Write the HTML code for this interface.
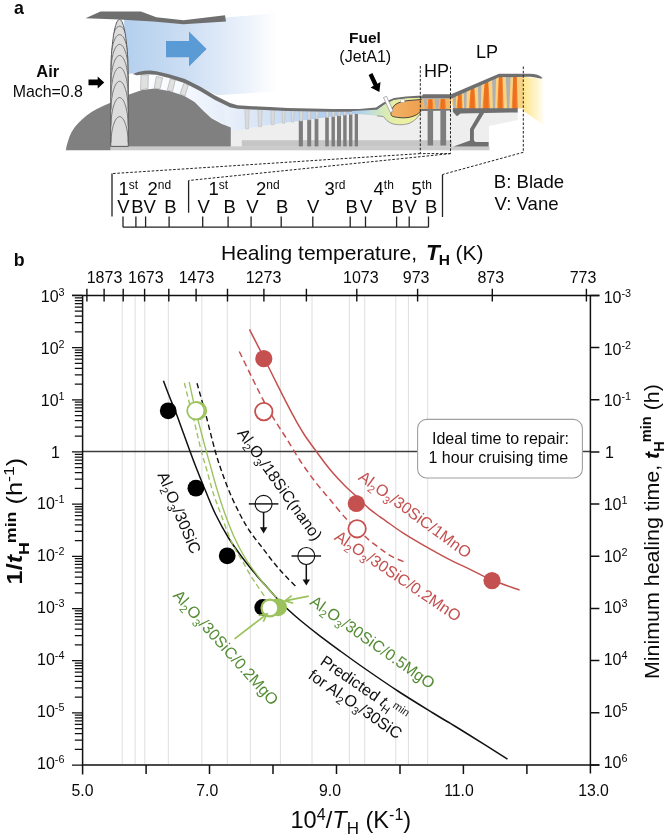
<!DOCTYPE html>
<html><head><meta charset="utf-8"><title>Figure</title>
<style>
html,body{margin:0;padding:0;background:#fff;}
body{width:666px;height:836px;overflow:hidden;}
svg{display:block;font-family:"Liberation Sans",sans-serif;}
text{fill:#0a0a0a;}
</style></head><body>
<svg width="666" height="836" viewBox="0 0 666 836">
<defs>
<linearGradient id="gAir" x1="127" y1="0" x2="278" y2="0" gradientUnits="userSpaceOnUse"><stop offset="0" stop-color="#b4d0ee"/><stop offset="0.35" stop-color="#c9dcf2"/><stop offset="0.75" stop-color="#e9f0fa"/><stop offset="1" stop-color="#ffffff"/></linearGradient>
<linearGradient id="gCore" x1="128" y1="0" x2="245" y2="0" gradientUnits="userSpaceOnUse"><stop offset="0" stop-color="#ffffff"/><stop offset="0.45" stop-color="#f6f9fe"/><stop offset="1" stop-color="#dfe9f8"/></linearGradient>
<linearGradient id="gComp" x1="226" y1="0" x2="378" y2="0" gradientUnits="userSpaceOnUse"><stop offset="0" stop-color="#eaf1fb"/><stop offset="0.3" stop-color="#d2e1f4"/><stop offset="0.6" stop-color="#b5cfee"/><stop offset="1" stop-color="#a3c4ea"/></linearGradient>
<linearGradient id="gComb" x1="352" y1="0" x2="422" y2="0" gradientUnits="userSpaceOnUse"><stop offset="0" stop-color="#a9c8ec"/><stop offset="0.2" stop-color="#b9d8e4"/><stop offset="0.42" stop-color="#d3e8bd"/><stop offset="0.6" stop-color="#e6efa6"/><stop offset="1" stop-color="#f4f19a"/></linearGradient>
<linearGradient id="gFlame" x1="390" y1="0" x2="424" y2="0" gradientUnits="userSpaceOnUse"><stop offset="0" stop-color="#f2b268"/><stop offset="1" stop-color="#ef9e4a"/></linearGradient>
<linearGradient id="gExh" x1="523" y1="0" x2="545" y2="0" gradientUnits="userSpaceOnUse"><stop offset="0" stop-color="#fde589"/><stop offset="0.5" stop-color="#fef2bf"/><stop offset="1" stop-color="#ffffff"/></linearGradient>
</defs>
<g id="engine">
<path d="M124 19L156 19L184.6 23L225.7 17.5L278 13L278 91.3L217 95.2L200 87.5L185 80L170 75.5L156 72.3L148 71.5L132 74.5L126 76Z" fill="url(#gAir)"/>
<path d="M127 74L148 72L170 76L185 81L200 89L215 98L230 105L247 108L247 131L231 131L222 123L211.4 117.8L203 110.5L194.6 102L184 95.7L169.4 91L154.7 88.4L142 90L128.4 94.7Z" fill="url(#gCore)"/>
<path d="M231 127L231 150L489 150L489 126L505.7 122.5L517.7 120L517.7 108L454 110L450 109L421 109L421 112L413.5 121L403 125L391 123.5L383.5 117.5L377 112.8L358 113L332.6 116.5L298.8 121L265 125.5L244.8 129L236 130.5Z" fill="#eeeeee"/>
<path d="M222 101L230 105L247 108L287.6 109.8L332.6 110.6L359.6 110.6L378 109L378 112.6L359.6 113L332.6 116.5L298.8 121L265 125.5L244.8 129L236 130.5L231 130.6L231 127.5L226 125Z" fill="url(#gComp)"/>
<rect x="241.8" y="140.2" width="210" height="6.4" fill="#c6c6c6"/>
<rect x="110.5" y="146.4" width="379" height="3.9" fill="#cbcbcb"/>
<rect x="298.8" y="120.7" width="4.1" height="25.7" fill="#7d7d7d"/>
<rect x="307.2" y="119.6" width="4" height="26.8" fill="#7d7d7d"/>
<rect x="314.6" y="118.7" width="3.8" height="27.7" fill="#7d7d7d"/>
<rect x="325.2" y="117.3" width="3.6" height="29.1" fill="#7d7d7d"/>
<rect x="331.5" y="116.5" width="3.4" height="29.9" fill="#7d7d7d"/>
<rect x="337" y="115.7" width="4" height="30.7" fill="#7d7d7d"/>
<rect x="343.2" y="114.9" width="3.4" height="31.5" fill="#7d7d7d"/>
<rect x="349" y="114.2" width="3.4" height="32.2" fill="#7d7d7d"/>
<rect x="354.7" y="113.4" width="3.3" height="33" fill="#7d7d7d"/>
<path d="M244.8 108.4L249.3 108.4L248.5 128.9L245.6 128.9Z" fill="#dadada" stroke="#b9b9b9" stroke-width="0.5"/>
<path d="M257.8 109L262.3 109L261.5 126.7L258.6 126.7Z" fill="#dadada" stroke="#b9b9b9" stroke-width="0.5"/>
<path d="M270.7 109.5L274.7 109.5L274 124.8L271.4 124.8Z" fill="#dadada" stroke="#b9b9b9" stroke-width="0.5"/>
<path d="M282 110L285.3 110L284.7 123.3L282.6 123.3Z" fill="#dadada" stroke="#b9b9b9" stroke-width="0.5"/>
<path d="M291 110.3L294.3 110.3L293.7 122.1L291.6 122.1Z" fill="#dadada" stroke="#b9b9b9" stroke-width="0.5"/>
<path d="M299.3 110.4L302.9 110.4L302.3 121L299.9 121Z" fill="#dadada" stroke="#b9b9b9" stroke-width="0.5"/>
<path d="M307.4 110.6L310.8 110.6L310.2 119.9L308 119.9Z" fill="#dadada" stroke="#b9b9b9" stroke-width="0.5"/>
<path d="M315.3 110.7L318.4 110.7L317.9 118.9L315.8 118.9Z" fill="#dadada" stroke="#b9b9b9" stroke-width="0.5"/>
<path d="M325.9 110.9L328.8 110.9L328.3 117.5L326.4 117.5Z" fill="#dadada" stroke="#b9b9b9" stroke-width="0.5"/>
<path d="M332 111L334.9 111L334.4 116.7L332.5 116.7Z" fill="#dadada" stroke="#b9b9b9" stroke-width="0.5"/>
<path d="M337.8 111L340.5 111L340 116L338.3 116Z" fill="#dadada" stroke="#b9b9b9" stroke-width="0.5"/>
<path d="M343.4 111L346 111L345.6 115.2L343.8 115.2Z" fill="#dadada" stroke="#b9b9b9" stroke-width="0.5"/>
<path d="M349.5 111L352.2 111L351.7 114.4L350 114.4Z" fill="#dadada" stroke="#b9b9b9" stroke-width="0.5"/>
<path d="M355 111L357.8 111L357.3 113.7L355.5 113.7Z" fill="#dadada" stroke="#b9b9b9" stroke-width="0.5"/>
<path d="M65.8 150.3L66.6 146L67.9 141.5L69.5 136.5L71.6 132L74.5 127.5L77.9 123.6L82 119.4L86.3 115.7L91.5 112L96.8 108.9L103 105.9L109.9 103.1L128.4 94.7L142 90L154.7 88.4L169.4 91L184 95.7L194.6 102L203 110.5L211.4 118.2L222 124L230.8 127.6L230.8 146.4L110.5 146.4L110.5 150.3Z" fill="#808080"/>
<path d="M141 74.7L148.3 75L148 88.6L140.6 89.8 Z" fill="#e0e0e0" stroke="#a5a5a5" stroke-width="0.6"/>
<path d="M156.3 76.4L162.6 77.9L160 88.8L154.2 88.2 Z" fill="#e0e0e0" stroke="#a5a5a5" stroke-width="0.6"/>
<path d="M170.4 78.6L175.3 80.2L172.5 91.5L167.3 90 Z" fill="#e0e0e0" stroke="#a5a5a5" stroke-width="0.6"/>
<path d="M184 83L188.3 85L185 96L180 94 Z" fill="#e0e0e0" stroke="#a5a5a5" stroke-width="0.6"/>
<path d="M132.8 74L138 72L144.5 70.7L150 70.6L156.2 71.3L165 73.3L170 74.5L185 79L200 86.5L215 95.5L230 103L237.6 105.3L252.6 106.2L270 106.9L287.6 108.1L332.6 108.9L359.6 108.9L376 107.5L383.5 102.5L394 97.9L406 96.5L421.6 95.6L421.6 97.9L406 98.8L394 100.3L384.9 104.6L377.3 110L359.6 111.6L332.6 111.7L287.6 111L270 110.2L252.6 109.5L237.6 108.8L230 107.3L215 100L200 91L185 83.2L170 78.3L165 76.9L156.2 74.7L147 74.2L136.7 75.3 Z" fill="#6f6f6f"/>
<path d="M352 110.9L377 109.8L384.6 104.4L394 100.1L406 98.6L421.4 97.8L421.4 110.5C419.5 116 415.5 120.5 410 123C405 125.2 397 125.2 392 123.6C388 122.2 385.5 119.5 383.5 116.6L377 115.8L352 113.4Z" fill="url(#gComb)"/>
<path d="M377 115.8L383.5 116.6C385.5 119.5 388 122.2 392 123.6C397 125.2 405 125.2 410 123C415.5 120.5 419.5 116 421.4 110.5" fill="none" stroke="#8f8f8f" stroke-width="0.9"/>
<path d="M391 112.5C392 108 394 105 397 103.5C401 101.6 405 100.8 409 100.5L421.8 99.4L436 99.4L436 108.5L421.8 109.5C420 112.5 417.5 114.5 415 115.5C411 117.3 407 117.9 403 117.8C399 117.7 395 117.2 392.5 116.3C391 115.5 390.6 114 391 112.5Z" fill="url(#gFlame)" stroke="#3a3a3a" stroke-width="0.9"/>
<rect x="400.8" y="99.2" width="3.6" height="3" fill="#fff" stroke="#b5b5b5" stroke-width="0.5"/>
<path d="M383.5 97.5L386.6 96.3L393.2 111.2L390.2 112.5Z" fill="#fff" stroke="#9a9a9a" stroke-width="0.8"/>
<linearGradient id="gBl" x1="0" y1="0" x2="1" y2="0"><stop offset="0" stop-color="#f6a04a"/><stop offset="0.3" stop-color="#ee6f1e"/><stop offset="0.7" stop-color="#ee6f1e"/><stop offset="1" stop-color="#f6a04a"/></linearGradient>
<path d="M421.8 99L451 98.6L451 109L421.8 109.4Z" fill="#f5b566"/>
<path d="M451 98.6L498.8 77.3L523.5 76.6L523.5 108.4L453 108.8Z" fill="#f9d384"/>
<path d="M423.8 99.2L427.2 99.2L426.3 108.9L424.8 108.9Z" fill="#b0b0b0"/>
<path d="M427 109L433.6 109L432.5 99.2L428.3 99.2Z" fill="url(#gBl)"/>
<path d="M434.5 99.2L439.4 99.2L438.4 108.9L436 108.9Z" fill="#b0b0b0"/>
<path d="M439.4 109L446.3 109L445.3 99L440.6 99Z" fill="url(#gBl)"/>
<path d="M453 97.3L456 95.9L455.6 108.9L453.4 108.9Z" fill="#b0b0b0"/>
<path d="M456.4 108.9L462.8 108.9L461.7 93.4L458 95Z" fill="url(#gBl)"/>
<path d="M463.8 92.5L466.7 91.2L466.4 108.9L464.1 108.9Z" fill="#b0b0b0"/>
<path d="M468.7 108.9L475.9 108.9L474.4 87.8L470.7 89.4Z" fill="url(#gBl)"/>
<path d="M477.9 86.2L481.4 84.7L480.8 108.9L478.5 108.9Z" fill="#b0b0b0"/>
<path d="M482.3 108.9L490.1 108.9L488.3 81.6L484.6 83.3Z" fill="url(#gBl)"/>
<path d="M492.1 80L496 78.2L495.2 108.9L492.9 108.9Z" fill="#b0b0b0"/>
<path d="M497 108.9L503.8 108.9L502.5 76.8L498.8 77Z" fill="url(#gBl)"/>
<path d="M505.8 76.7L510.6 76.6L509.3 108.9L507.1 108.9Z" fill="#b0b0b0"/>
<path d="M511.6 108.9L518 108.9L516.9 76.5L513.2 76.6Z" fill="url(#gBl)"/>
<path d="M423 94.3L451.1 94.3L499 73.8L530 73.8C535.5 73.9 539.5 75.2 542.6 77.9L540.6 79.6C537.5 77.6 534 76.9 528 76.8L499 77.3L451.6 98.6L420.2 98.6Z" fill="#6f6f6f"/>
<path d="M422 108.9L451 108.9L451 110.6L422 111Z" fill="#6f6f6f"/>
<path d="M452.8 108.2L517.7 108.2L517.7 112.4L460.5 113.6L457 116.2L452.8 111.8Z" fill="#6f6f6f"/>
<path d="M479.4 113L484.1 113L473.9 129.8L473.9 139.5C474 141 474.8 141.9 476 141.9L488.6 141.9L488.6 146.6L453.5 146.6L470 140.4L470 129Z" fill="#6f6f6f"/>
<rect x="427.6" y="109.2" width="5.5" height="36.3" fill="#7d7d7d"/>
<rect x="440.4" y="109.2" width="5.7" height="36.3" fill="#7d7d7d"/>
<path d="M523.8 76.9L541 78.6L546 80L546 126.5L523.8 111.2Z" fill="url(#gExh)"/>
<clipPath id="cBlade"><path d="M110.7 146.4L110.7 75.4L110.8 70.8L110.9 66.5L111 62.3L111.2 58.3L111.5 54.5L111.7 50.9L112 47.5L112.4 44.3L112.7 41.3L113.1 38.5L113.4 35.8L113.8 33.4L114.3 31.2L114.7 29.1L115.1 27.3L115.6 25.6L116.1 24.2L116.5 22.9L117 21.8L117.5 21L118 20.3L118.5 19.8L119 19.5L119.5 19.4L120 19.5L120.5 19.8L121 20.3L121.5 21L122 21.8L122.5 22.9L122.9 24.2L123.4 25.6L123.9 27.3L124.3 29.1L124.7 31.2L125.2 33.4L125.6 35.8L125.9 38.5L126.3 41.3L126.6 44.3L127 47.5L127.3 50.9L127.5 54.5L127.8 58.3L128 62.3L128.1 66.5L128.2 70.8L128.3 75.4L128.3 146.4 Z"/></clipPath>
<path d="M110.7 146.4L110.7 75.4L110.8 70.8L110.9 66.5L111 62.3L111.2 58.3L111.5 54.5L111.7 50.9L112 47.5L112.4 44.3L112.7 41.3L113.1 38.5L113.4 35.8L113.8 33.4L114.3 31.2L114.7 29.1L115.1 27.3L115.6 25.6L116.1 24.2L116.5 22.9L117 21.8L117.5 21L118 20.3L118.5 19.8L119 19.5L119.5 19.4L120 19.5L120.5 19.8L121 20.3L121.5 21L122 21.8L122.5 22.9L122.9 24.2L123.4 25.6L123.9 27.3L124.3 29.1L124.7 31.2L125.2 33.4L125.6 35.8L125.9 38.5L126.3 41.3L126.6 44.3L127 47.5L127.3 50.9L127.5 54.5L127.8 58.3L128 62.3L128.1 66.5L128.2 70.8L128.3 75.4L128.3 146.4 Z" fill="#dcdcdc" stroke="#5a5a5a" stroke-width="1" stroke-linejoin="round"/>
<g clip-path="url(#cBlade)">
<path d="M111 50.2L111.1 48.2L111.2 46.4L111.3 44.6L111.5 42.9L111.7 41.2L112 39.7L112.3 38.2L112.6 36.9L112.9 35.6L113.3 34.4L113.7 33.2L114.1 32.2L114.5 31.2L114.9 30.4L115.3 29.6L115.8 28.9L116.2 28.2L116.7 27.7L117.2 27.2L117.6 26.9L118.1 26.6L118.6 26.4L119.1 26.2L119.6 26.2L120.1 26.2L120.6 26.4L121.1 26.6L121.6 26.9L122 27.2L122.5 27.7L123 28.2L123.4 28.9L123.9 29.6L124.3 30.4L124.7 31.2L125.1 32.2L125.5 33.2L125.9 34.4L126.3 35.6L126.6 36.9L126.9 38.2L127.2 39.7L127.5 41.2L127.7 42.9L127.9 44.6L128 46.4L128.1 48.2L128.2 50.2" fill="none" stroke="#555" stroke-width="0.75"/>
<path d="M111 59.6L111.1 57.6L111.2 55.6L111.3 53.7L111.5 52L111.7 50.3L112 48.7L112.3 47.1L112.6 45.7L112.9 44.4L113.3 43.1L113.7 41.9L114.1 40.9L114.5 39.9L114.9 38.9L115.3 38.1L115.8 37.4L116.2 36.7L116.7 36.2L117.2 35.7L117.6 35.3L118.1 35L118.6 34.8L119.1 34.6L119.6 34.6L120.1 34.6L120.6 34.8L121.1 35L121.6 35.3L122 35.7L122.5 36.2L123 36.7L123.4 37.4L123.9 38.1L124.3 38.9L124.7 39.9L125.1 40.9L125.5 41.9L125.9 43.1L126.3 44.4L126.6 45.7L126.9 47.1L127.2 48.7L127.5 50.3L127.7 52L127.9 53.7L128 55.6L128.1 57.6L128.2 59.6" fill="none" stroke="#555" stroke-width="0.75"/>
<path d="M111 70.4L111.1 68.3L111.2 66.2L111.3 64.3L111.5 62.5L111.7 60.7L112 59L112.3 57.4L112.6 56L112.9 54.6L113.3 53.2L113.7 52L114.1 50.9L114.5 49.9L114.9 48.9L115.3 48.1L115.8 47.3L116.2 46.6L116.7 46L117.2 45.5L117.6 45.1L118.1 44.8L118.6 44.6L119.1 44.4L119.6 44.4L120.1 44.4L120.6 44.6L121.1 44.8L121.6 45.1L122 45.5L122.5 46L123 46.6L123.4 47.3L123.9 48.1L124.3 48.9L124.7 49.9L125.1 50.9L125.5 52L125.9 53.2L126.3 54.6L126.6 56L126.9 57.4L127.2 59L127.5 60.7L127.7 62.5L127.9 64.3L128 66.2L128.1 68.3L128.2 70.4" fill="none" stroke="#555" stroke-width="0.75"/>
<path d="M111 82.5L111.1 80.3L111.2 78.2L111.3 76.2L111.5 74.2L111.7 72.4L112 70.7L112.3 69L112.6 67.5L112.9 66L113.3 64.7L113.7 63.4L114.1 62.2L114.5 61.2L114.9 60.2L115.3 59.3L115.8 58.5L116.2 57.8L116.7 57.2L117.2 56.7L117.6 56.2L118.1 55.9L118.6 55.7L119.1 55.5L119.6 55.5L120.1 55.5L120.6 55.7L121.1 55.9L121.6 56.2L122 56.7L122.5 57.2L123 57.8L123.4 58.5L123.9 59.3L124.3 60.2L124.7 61.2L125.1 62.2L125.5 63.4L125.9 64.7L126.3 66L126.6 67.5L126.9 69L127.2 70.7L127.5 72.4L127.7 74.2L127.9 76.2L128 78.2L128.1 80.3L128.2 82.5" fill="none" stroke="#555" stroke-width="0.75"/>
<path d="M111 95.4L111.1 93.1L111.2 90.9L111.3 88.8L111.5 86.8L111.7 84.9L112 83.2L112.3 81.4L112.6 79.8L112.9 78.3L113.3 76.9L113.7 75.6L114.1 74.4L114.5 73.3L114.9 72.3L115.3 71.3L115.8 70.5L116.2 69.8L116.7 69.2L117.2 68.6L117.6 68.2L118.1 67.8L118.6 67.6L119.1 67.4L119.6 67.4L120.1 67.4L120.6 67.6L121.1 67.8L121.6 68.2L122 68.6L122.5 69.2L123 69.8L123.4 70.5L123.9 71.3L124.3 72.3L124.7 73.3L125.1 74.4L125.5 75.6L125.9 76.9L126.3 78.3L126.6 79.8L126.9 81.4L127.2 83.2L127.5 84.9L127.7 86.8L127.9 88.8L128 90.9L128.1 93.1L128.2 95.4" fill="none" stroke="#555" stroke-width="0.75"/>
<path d="M111 109.3L111.1 107L111.2 104.8L111.3 102.7L111.5 100.7L111.7 98.8L112 97L112.3 95.3L112.6 93.7L112.9 92.2L113.3 90.8L113.7 89.5L114.1 88.3L114.5 87.2L114.9 86.2L115.3 85.2L115.8 84.4L116.2 83.7L116.7 83L117.2 82.5L117.6 82.1L118.1 81.7L118.6 81.5L119.1 81.3L119.6 81.3L120.1 81.3L120.6 81.5L121.1 81.7L121.6 82.1L122 82.5L122.5 83L123 83.7L123.4 84.4L123.9 85.2L124.3 86.2L124.7 87.2L125.1 88.3L125.5 89.5L125.9 90.8L126.3 92.2L126.6 93.7L126.9 95.3L127.2 97L127.5 98.8L127.7 100.7L127.9 102.7L128 104.8L128.1 107L128.2 109.3" fill="none" stroke="#555" stroke-width="0.75"/>
<path d="M111 125.6L111.1 123.3L111.2 121.1L111.3 119L111.5 117L111.7 115.1L112 113.3L112.3 111.6L112.6 110L112.9 108.5L113.3 107.1L113.7 105.8L114.1 104.6L114.5 103.5L114.9 102.5L115.3 101.5L115.8 100.7L116.2 100L116.7 99.3L117.2 98.8L117.6 98.4L118.1 98L118.6 97.8L119.1 97.6L119.6 97.6L120.1 97.6L120.6 97.8L121.1 98L121.6 98.4L122 98.8L122.5 99.3L123 100L123.4 100.7L123.9 101.5L124.3 102.5L124.7 103.5L125.1 104.6L125.5 105.8L125.9 107.1L126.3 108.5L126.6 110L126.9 111.6L127.2 113.3L127.5 115.1L127.7 117L127.9 119L128 121.1L128.1 123.3L128.2 125.6" fill="none" stroke="#555" stroke-width="0.75"/>
<path d="M111 142.7L111.1 140.6L111.2 138.5L111.3 136.6L111.5 134.8L111.7 133L112 131.3L112.3 129.7L112.6 128.3L112.9 126.9L113.3 125.5L113.7 124.3L114.1 123.2L114.5 122.2L114.9 121.2L115.3 120.4L115.8 119.6L116.2 118.9L116.7 118.3L117.2 117.8L117.6 117.4L118.1 117.1L118.6 116.9L119.1 116.7L119.6 116.7L120.1 116.7L120.6 116.9L121.1 117.1L121.6 117.4L122 117.8L122.5 118.3L123 118.9L123.4 119.6L123.9 120.4L124.3 121.2L124.7 122.2L125.1 123.2L125.5 124.3L125.9 125.5L126.3 126.9L126.6 128.3L126.9 129.7L127.2 131.3L127.5 133L127.7 134.8L127.9 136.6L128 138.5L128.1 140.6L128.2 142.7" fill="none" stroke="#555" stroke-width="0.75"/>
</g>
<path d="M85.5 18.2L100.5 11.4L141 11.4L156.3 17.2L183.5 20.2L225 15.3L226 21.6L183.5 24.2L153 21.4L119 19.6Z" fill="#6f6f6f"/>
<path d="M166 41L189 41L189 31.5L206.6 49L189 66.4L189 57.2L166 57.2Z" fill="#5b9bd5"/>
<path d="M88.5 79.6L97.7 79.6L97.7 76.5L104.2 82.4L97.7 88.4L97.7 85.3L88.5 85.3Z" fill="#000"/>
<path d="M372.4 73L377.5 83.7L380.5 82.1L379.4 92L370.6 87.4L373.6 85.8L368.6 75Z" fill="#000"/>
<path d="M420.3 66V153.6H450.5V66" stroke="#222" stroke-width="1" fill="none" stroke-dasharray="2.6 1.7"/>
<path d="M523.3 66.5V152.3" stroke="#222" stroke-width="1" fill="none" stroke-dasharray="2.6 1.7"/>
<path d="M420.3 153.6L112 173.6" stroke="#222" stroke-width="1" fill="none" stroke-dasharray="2.6 1.7"/>
<path d="M450.5 153.6L188.6 180.5" stroke="#222" stroke-width="1" fill="none" stroke-dasharray="2.6 1.7"/>
<path d="M523.3 152.3L442.5 174.5" stroke="#222" stroke-width="1" fill="none" stroke-dasharray="2.6 1.7"/>
<path d="M112 173.6V216.6M188.6 180.5V212.7M442.5 174.5V217" stroke="#222" stroke-width="1.3" fill="none"/>
<path d="M123 227.2H428.5M123 216.6V227.2M135.9 216.6V227.2M145.6 216.6V227.2M169.1 216.6V227.2M202.7 216.6V227.2M228.1 216.6V227.2M251.1 216.6V227.2M281.2 216.6V227.2M312.8 216.6V227.2M350.2 216.6V227.2M365.5 216.6V227.2M396.6 216.6V227.2M409.2 216.6V227.2M428.5 216.6V227.2" stroke="#222" stroke-width="1.3" fill="none"/>
<text x="47.7" y="77.3" font-size="16.4" font-weight="bold" text-anchor="middle">Air</text>
<text x="47.8" y="96.5" font-size="15.9" text-anchor="middle">Mach=0.8</text>
<text x="365" y="42.8" font-size="15.5" font-weight="bold" text-anchor="middle">Fuel</text>
<text x="365.3" y="61.5" font-size="16.1" text-anchor="middle">(JetA1)</text>
<text x="436.6" y="77.2" font-size="18" text-anchor="middle">HP</text>
<text x="487" y="57.6" font-size="18" text-anchor="middle">LP</text>
<text x="493.8" y="187.6" font-size="18.6">B: Blade</text>
<text x="494.5" y="209.6" font-size="18.6">V: Vane</text>
<text x="118.5" y="195" font-size="18.5">1<tspan font-size="12" dy="-6.5">st</tspan></text>
<text x="147.5" y="195" font-size="18.5">2<tspan font-size="12" dy="-6.5">nd</tspan></text>
<text x="208.5" y="195" font-size="18.5">1<tspan font-size="12" dy="-6.5">st</tspan></text>
<text x="256" y="195" font-size="18.5">2<tspan font-size="12" dy="-6.5">nd</tspan></text>
<text x="324.5" y="195" font-size="18.5">3<tspan font-size="12" dy="-6.5">rd</tspan></text>
<text x="373.5" y="195" font-size="18.5">4<tspan font-size="12" dy="-6.5">th</tspan></text>
<text x="411.5" y="195" font-size="18.5">5<tspan font-size="12" dy="-6.5">th</tspan></text>
<text x="123.4" y="212.5" font-size="18.5" text-anchor="middle">V</text>
<text x="137.5" y="212.5" font-size="18.5" text-anchor="middle">B</text>
<text x="149.7" y="212.5" font-size="18.5" text-anchor="middle">V</text>
<text x="170.5" y="212.5" font-size="18.5" text-anchor="middle">B</text>
<text x="203.6" y="212.5" font-size="18.5" text-anchor="middle">V</text>
<text x="229.7" y="212.5" font-size="18.5" text-anchor="middle">B</text>
<text x="252.5" y="212.5" font-size="18.5" text-anchor="middle">V</text>
<text x="282.2" y="212.5" font-size="18.5" text-anchor="middle">B</text>
<text x="313.2" y="212.5" font-size="18.5" text-anchor="middle">V</text>
<text x="351.7" y="212.5" font-size="18.5" text-anchor="middle">B</text>
<text x="366.2" y="212.5" font-size="18.5" text-anchor="middle">V</text>
<text x="397.7" y="212.5" font-size="18.5" text-anchor="middle">B</text>
<text x="410.7" y="212.5" font-size="18.5" text-anchor="middle">V</text>
<text x="431.2" y="212.5" font-size="18.5" text-anchor="middle">B</text>
</g>
<g id="chart">
<text x="14.0" y="13.9" font-size="17.8" font-weight="bold">a</text>
<text x="13.8" y="265.5" font-size="17.8" font-weight="bold">b</text>
<path d="M122.2 296.4V764M135.1 296.4V764M144.8 296.4V764M168.3 296.4V764M201.9 296.4V764M227.3 296.4V764M250.3 296.4V764M280.4 296.4V764M312 296.4V764M349.4 296.4V764M364.7 296.4V764M395.8 296.4V764M408.4 296.4V764M427.7 296.4V764" stroke="#dedede" stroke-width="1" fill="none"/>
<path d="M82.6 451.5H590.4" stroke="#3c3c3c" stroke-width="1.6" fill="none"/>
<path d="M163.4 380.8C164.5 383.6 167.6 391.9 169.8 397.5C172 403.1 174.4 408.6 176.6 414.4C178.8 420.1 180.8 425.9 183 432C185.2 438.1 187.5 444.4 189.8 450.7C192.1 457 194.4 463.1 197 469.7C199.6 476.2 202.1 482.6 205.2 490C208.3 497.4 211.5 506 215.4 514C219.3 522 224 530.6 228.6 538C233.2 545.4 238.2 552.1 243 558.5C247.8 564.9 253.5 571.7 257.5 576.5C261.5 581.3 263.7 583.5 267.1 587.3C270.5 591.1 274.2 595.7 277.8 599.5C281.4 603.3 284.7 606.5 288.5 610C292.3 613.5 295.3 616.2 300.5 620.5C305.7 624.8 313.2 630.8 319.8 635.8C326.4 640.8 332.6 645.4 340 650.8C347.4 656.2 354.2 661.2 364 668C373.8 674.8 387.1 684 398.6 691.5C410.1 699 424.4 707.7 433 713C441.6 718.3 444.6 720 450 723.2C455.4 726.5 455.6 726.5 465.2 732.5C474.8 738.5 500.4 754.7 507.5 759.1" stroke="#111" stroke-width="1.5" fill="none"/>
<path d="M189.2 382C189.9 385.2 191.8 394.4 193.4 401.2C195 408 196.7 414.6 198.8 422.9C200.9 431.1 204 442.9 206.1 450.7C208.2 458.5 209.7 463.1 211.5 469.7C213.3 476.2 214.9 482.6 217.2 490C219.4 497.4 222.1 506 225 514C227.9 522 231.2 530.6 234.6 538C238 545.4 241.3 551.7 245.5 558.5C249.7 565.3 256.1 573.9 259.9 578.9C263.6 583.9 265.3 585.4 268 588.5C270.7 591.6 274.7 596 276 597.5" stroke="#9bc25c" stroke-width="1.35" fill="none"/>
<path d="M184.4 383C185.2 386.1 187.3 394.9 189 401.5C190.7 408.1 192.6 414.7 194.6 422.9C196.6 431.1 199.2 442.9 201.2 450.7C203.2 458.5 204.7 462.8 206.7 469.7C208.7 476.6 210.7 485 213 492.4C215.3 499.8 218 506.4 220.8 514C223.6 521.6 227.3 531.9 229.8 538C232.3 544.1 233.8 546.5 236 550.5C238.2 554.5 240.7 558 243 562C245.3 566 247.6 570.5 250 574.5C252.4 578.5 255 582.2 257.5 586C260 589.8 263.8 595.2 265 597" stroke="#9bc25c" stroke-width="1.35" fill="none" stroke-dasharray="5.4 3.2"/>
<path d="M197 383.2C197.9 386.4 200.8 396.6 202.4 402.4C204 408.2 204.6 409.9 206.7 418C208.8 426.1 212.7 442.1 215.1 450.7C217.5 459.3 218.7 462.8 221.1 469.7C223.5 476.6 226.3 484.4 229.4 491.8C232.5 499.2 236.4 507.4 239.8 514C243.2 520.6 246.2 525.9 250 531.5C253.8 537.1 258.2 542.4 262.3 547.7C266.4 553 270.5 558.7 274.3 563.3C278.1 567.9 281.3 571.5 285 575.5C288.7 579.5 294.8 585.3 296.7 587.3" stroke="#111" stroke-width="1.4" fill="none" stroke-dasharray="5.4 3.2"/>
<path d="M249.5 329.3C251.2 332.8 256.5 343.1 260 350C263.5 356.9 266.2 362.5 270.5 371C274.8 379.5 281.1 392.3 285.6 401.1C290.1 409.9 294.5 418 297.6 423.6C300.8 429.2 301.5 430.5 304.5 435C307.5 439.5 311.6 445.1 315.8 450.8C320.1 456.6 325.1 463.6 330 469.5C334.9 475.4 340.8 481.6 345.1 486C349.4 490.4 351.6 491.8 355.6 495.6C359.6 499.4 365 505.1 369.1 508.6C373.2 512.1 377.4 515 380 516.9C382.6 518.8 381.2 517.7 385 520.3C388.8 522.9 395.8 528.4 402.5 532.7C409.2 537 417.5 541.9 425 546.2C432.5 550.5 440.1 554.7 447.6 558.6C455.1 562.5 462.7 565.8 470.1 569.4C477.5 573 483.8 576.5 492 580C500.2 583.5 515 588.4 519.6 590.1" stroke="#c4504f" stroke-width="1.5" fill="none"/>
<path d="M239.3 351.5C241.5 356 248.4 370.3 252.5 378.6C256.6 386.9 260.1 394.1 263.8 401.1C267.6 408.1 271.2 414.4 275 420.6C278.8 426.8 282.3 431.9 286.5 438.5C290.7 445.1 295.2 453.3 300 460.5C304.8 467.7 310 475 315 481.5C320 488 325 493.6 330 499.6C335 505.6 340.6 512.7 345.1 517.6C349.6 522.5 353.1 525 357.1 528.8C361.1 532.5 365.3 536.8 369.1 540.1C372.9 543.4 377.4 546.4 380 548.4C382.6 550.4 382.8 550.6 385 552.1C387.2 553.6 389.8 555.6 393.5 557.4C397.2 559.2 404.8 562.1 407 563" stroke="#c4504f" stroke-width="1.5" fill="none" stroke-dasharray="6.2 4"/>
<circle cx="168.2" cy="410.8" r="8.4" fill="#000"/>
<circle cx="195.9" cy="488.2" r="8.4" fill="#000"/>
<circle cx="227.2" cy="555.8" r="8.4" fill="#000"/>
<circle cx="262.8" cy="607.4" r="8.4" fill="#000"/>
<circle cx="278" cy="607.2" r="9" fill="#9bc25c"/>
<circle cx="269.9" cy="608" r="8.4" fill="#fff" stroke="#9bc25c" stroke-width="2.2"/>
<circle cx="197.6" cy="410.8" r="8.6" fill="#fff" stroke="#9bc25c" stroke-width="1.8"/>
<circle cx="195.8" cy="410.8" r="8.6" fill="#fff" stroke="#9bc25c" stroke-width="1.8"/>
<circle cx="263.8" cy="358.7" r="8.6" fill="#c4504f"/>
<circle cx="356.3" cy="503.5" r="8.6" fill="#c4504f"/>
<circle cx="492" cy="580.6" r="8.6" fill="#c4504f"/>
<circle cx="263.8" cy="411.6" r="8.7" fill="#fff" stroke="#c4504f" stroke-width="1.8"/>
<circle cx="357.1" cy="528.8" r="8.7" fill="#fff" stroke="#c4504f" stroke-width="1.8"/>
<circle cx="263.6" cy="503.9" r="8.5" fill="#fff" stroke="#111" stroke-width="1.1"/>
<path d="M248.8 503.9H278.4" stroke="#111" stroke-width="1.45"/>
<path d="M263.6 512.5V528.4" stroke="#111" stroke-width="1.5"/>
<path d="M259.9 527.3L267.3 527.3L263.6 533.5Z" fill="#111"/>
<circle cx="306.3" cy="556" r="8.5" fill="#fff" stroke="#111" stroke-width="1.1"/>
<path d="M291.5 556H321.1" stroke="#111" stroke-width="1.45"/>
<path d="M306.3 564.6V580.5" stroke="#111" stroke-width="1.5"/>
<path d="M302.6 579.4L310 579.4L306.3 585.6Z" fill="#111"/>
<path d="M308.8 596.1L285 600.9" stroke="#9bc25c" stroke-width="1.7" fill="none"/>
<path d="M291.7 595.6L285 600.9L293.2 603.2" stroke="#9bc25c" stroke-width="1.7" fill="none" stroke-linejoin="miter"/>
<path d="M234.6 638.8L267 614" stroke="#9bc25c" stroke-width="1.7" fill="none"/>
<path d="M263.3 621.7L267 614L258.6 615.5" stroke="#9bc25c" stroke-width="1.7" fill="none" stroke-linejoin="miter"/>
<path d="M82.6 295.4V774.5M590.4 295.4V773.5M72 295.4H599.4M81.8 765H599.4" stroke="#111" stroke-width="1.5" fill="none"/>
<path d="M72 295.4H82.6M74.8 331.9H82.6M74.8 322.7H82.6M74.8 316.2H82.6M74.8 311.1H82.6M74.8 307H82.6M74.8 303.5H82.6M74.8 300.5H82.6M74.8 297.8H82.6M72 347.6H82.6M74.8 384H82.6M74.8 374.9H82.6M74.8 368.3H82.6M74.8 363.3H82.6M74.8 359.2H82.6M74.8 355.7H82.6M74.8 352.6H82.6M74.8 350H82.6M72 399.8H82.6M74.8 436.2H82.6M74.8 427H82.6M74.8 420.5H82.6M74.8 415.5H82.6M74.8 411.3H82.6M74.8 407.8H82.6M74.8 404.8H82.6M74.8 402.1H82.6M72 451.9H82.6M74.8 488.4H82.6M74.8 479.2H82.6M74.8 472.7H82.6M74.8 467.6H82.6M74.8 463.5H82.6M74.8 460H82.6M74.8 457H82.6M74.8 454.3H82.6M72 504.1H82.6M74.8 540.6H82.6M74.8 531.4H82.6M74.8 524.9H82.6M74.8 519.8H82.6M74.8 515.7H82.6M74.8 512.2H82.6M74.8 509.2H82.6M74.8 506.5H82.6M72 556.3H82.6M74.8 592.8H82.6M74.8 583.6H82.6M74.8 577.1H82.6M74.8 572H82.6M74.8 567.9H82.6M74.8 564.4H82.6M74.8 561.3H82.6M74.8 558.7H82.6M72 608.5H82.6M74.8 644.9H82.6M74.8 635.7H82.6M74.8 629.2H82.6M74.8 624.2H82.6M74.8 620H82.6M74.8 616.5H82.6M74.8 613.5H82.6M74.8 610.9H82.6M72 660.6H82.6M74.8 697.1H82.6M74.8 687.9H82.6M74.8 681.4H82.6M74.8 676.4H82.6M74.8 672.2H82.6M74.8 668.7H82.6M74.8 665.7H82.6M74.8 663H82.6M72 712.8H82.6M74.8 749.3H82.6M74.8 740.1H82.6M74.8 733.6H82.6M74.8 728.5H82.6M74.8 724.4H82.6M74.8 720.9H82.6M74.8 717.9H82.6M74.8 715.2H82.6M72 765H82.6" stroke="#111" stroke-width="1.25" fill="none"/>
<path d="M590.4 295.4H599.4M590.4 347.6H599.4M590.4 399.8H599.4M590.4 451.9H599.4M590.4 504.1H599.4M590.4 556.3H599.4M590.4 608.5H599.4M590.4 660.6H599.4M590.4 712.8H599.4M590.4 765H599.4" stroke="#111" stroke-width="1.5" fill="none"/>
<path d="M86.9 288.8V301.6M104.1 288.8V301.6M123.2 288.8V301.6M144.6 288.8V301.6M168.8 288.8V301.6M196.1 288.8V301.6M227.5 288.8V301.6M263.9 288.8V301.6M306.4 288.8V301.6M356.8 288.8V301.6M417.6 288.8V301.6M492.3 288.8V301.6M586.4 288.8V301.6" stroke="#111" stroke-width="1.4" fill="none"/>
<path d="M146.1 765V774M209.5 765V774M273 765V774M336.5 765V774M400 765V774M463.4 765V774M526.9 765V774" stroke="#111" stroke-width="1.5" fill="none"/>
<text x="104.5" y="282.6" font-size="16" text-anchor="middle">1873</text>
<text x="145.8" y="282.6" font-size="16" text-anchor="middle">1673</text>
<text x="196.5" y="282.6" font-size="16" text-anchor="middle">1473</text>
<text x="263.5" y="282.6" font-size="16" text-anchor="middle">1273</text>
<text x="360.8" y="282.6" font-size="16" text-anchor="middle">1073</text>
<text x="416.1" y="282.6" font-size="16" text-anchor="middle">973</text>
<text x="490.8" y="282.6" font-size="16" text-anchor="middle">873</text>
<text x="583" y="282.6" font-size="16" text-anchor="middle">773</text>
<text x="40.8" y="301.9" font-size="16" text-anchor="start">10<tspan font-size="10.8" dy="-6">3</tspan></text>
<text x="40.8" y="353.8" font-size="16" text-anchor="start">10<tspan font-size="10.8" dy="-6">2</tspan></text>
<text x="40.8" y="405.7" font-size="16" text-anchor="start">10<tspan font-size="10.8" dy="-6">1</tspan></text>
<text x="59.8" y="457.5" font-size="16" text-anchor="end">1</text>
<text x="37" y="509.4" font-size="16" text-anchor="start">10<tspan font-size="10.8" dy="-6">-1</tspan></text>
<text x="37" y="561.3" font-size="16" text-anchor="start">10<tspan font-size="10.8" dy="-6">-2</tspan></text>
<text x="37" y="613.2" font-size="16" text-anchor="start">10<tspan font-size="10.8" dy="-6">-3</tspan></text>
<text x="37" y="665.1" font-size="16" text-anchor="start">10<tspan font-size="10.8" dy="-6">-4</tspan></text>
<text x="37" y="716.9" font-size="16" text-anchor="start">10<tspan font-size="10.8" dy="-6">-5</tspan></text>
<text x="37" y="768.8" font-size="16" text-anchor="start">10<tspan font-size="10.8" dy="-6">-6</tspan></text>
<text x="603.7" y="302.8" font-size="16" text-anchor="start">10<tspan font-size="10.8" dy="-6">-3</tspan></text>
<text x="603.7" y="354.5" font-size="16" text-anchor="start">10<tspan font-size="10.8" dy="-6">-2</tspan></text>
<text x="603.7" y="406.3" font-size="16" text-anchor="start">10<tspan font-size="10.8" dy="-6">-1</tspan></text>
<text x="605" y="458" font-size="16" text-anchor="start">1</text>
<text x="603.7" y="509.7" font-size="16" text-anchor="start">10<tspan font-size="10.8" dy="-6">1</tspan></text>
<text x="603.7" y="561.5" font-size="16" text-anchor="start">10<tspan font-size="10.8" dy="-6">2</tspan></text>
<text x="603.7" y="613.2" font-size="16" text-anchor="start">10<tspan font-size="10.8" dy="-6">3</tspan></text>
<text x="603.7" y="664.9" font-size="16" text-anchor="start">10<tspan font-size="10.8" dy="-6">4</tspan></text>
<text x="603.7" y="716.6" font-size="16" text-anchor="start">10<tspan font-size="10.8" dy="-6">5</tspan></text>
<text x="603.7" y="768.4" font-size="16" text-anchor="start">10<tspan font-size="10.8" dy="-6">6</tspan></text>
<text x="82.5" y="795.7" font-size="15.8" text-anchor="middle">5.0</text>
<text x="207.3" y="795.7" font-size="15.8" text-anchor="middle">7.0</text>
<text x="330" y="795.7" font-size="15.8" text-anchor="middle">9.0</text>
<text x="459" y="795.7" font-size="15.8" text-anchor="middle">11.0</text>
<text x="593.5" y="795.7" font-size="15.8" text-anchor="middle">13.0</text>
<text x="221" y="260" font-size="21">Healing temperature, <tspan font-weight="bold" font-style="italic" dx="3" font-size="22.5">T</tspan><tspan font-weight="bold" font-size="15.5" dy="4.5" dx="-1">H</tspan><tspan dy="-4.5" dx="-0.3"> (K)</tspan></text>
<text x="290.5" y="828" font-size="23.6">10<tspan font-size="16" dy="-8.3">4</tspan><tspan dy="8.3">/</tspan><tspan font-style="italic">T</tspan><tspan font-size="17" dy="5.5">H</tspan><tspan dy="-5.5"> (K</tspan><tspan font-size="16" dy="-8.3">-1</tspan><tspan dy="8.3">)</tspan></text>
<text transform="translate(21.8,584.4) rotate(-90) scale(1.15,1)" font-size="22" font-weight="bold">1/<tspan font-style="italic">t</tspan><tspan font-size="15.5" dy="7.5">H</tspan><tspan font-size="15.5" dy="-13" dx="-1">min</tspan><tspan dy="5.5" font-weight="normal"> (h</tspan><tspan font-size="15.5" dy="-8" font-weight="normal">-1</tspan><tspan dy="8" font-weight="normal">)</tspan></text>
<text transform="translate(659,679) rotate(-90) scale(1.045,1)" font-size="20.5">Minimum healing time, <tspan font-weight="bold" font-style="italic">t</tspan><tspan font-weight="bold" font-size="14" dy="5">H</tspan><tspan font-weight="bold" font-size="14" dy="-13.5" dx="-1">min</tspan><tspan dy="8.5"> (h)</tspan></text>
<rect x="417.6" y="419.4" width="164.8" height="58.6" rx="9" ry="9" fill="#fff" stroke="#a0a0a0" stroke-width="1.1"/>
<text x="500.5" y="443.5" font-size="16" text-anchor="middle">Ideal time to repair:</text>
<text x="498.3" y="462.7" font-size="16" text-anchor="middle">1 hour cruising time</text>
<text transform="translate(157.3,474.8) rotate(67)" font-size="16" style="fill:#111"><tspan dy="0">Al</tspan><tspan font-size="11" dy="4">2</tspan><tspan dy="-4">O</tspan><tspan font-size="11" dy="4">3</tspan><tspan dy="-4">/30SiC</tspan></text>
<text transform="translate(236.7,433.3) rotate(54.5)" font-size="16" style="fill:#111"><tspan dy="0">Al</tspan><tspan font-size="11" dy="4">2</tspan><tspan dy="-4">O</tspan><tspan font-size="11" dy="4">3</tspan><tspan dy="-4">/18SiC(nano)</tspan></text>
<text transform="translate(357.5,478.9) rotate(36.3)" font-size="16" style="fill:#c4504f"><tspan dy="0">Al</tspan><tspan font-size="11" dy="4">2</tspan><tspan dy="-4">O</tspan><tspan font-size="11" dy="4">3</tspan><tspan dy="-4">/30SiC/1MnO</tspan></text>
<text transform="translate(333.4,539) rotate(34.1)" font-size="16" style="fill:#c4504f"><tspan dy="0">Al</tspan><tspan font-size="11" dy="4">2</tspan><tspan dy="-4">O</tspan><tspan font-size="11" dy="4">3</tspan><tspan dy="-4">/30SiC/0.2MnO</tspan></text>
<text transform="translate(308.9,603.8) rotate(35.3)" font-size="16" style="fill:#548c34"><tspan dy="0">Al</tspan><tspan font-size="11" dy="4">2</tspan><tspan dy="-4">O</tspan><tspan font-size="11" dy="4">3</tspan><tspan dy="-4">/30SiC/0.5MgO</tspan></text>
<text transform="translate(172.2,596.1) rotate(48)" font-size="16" style="fill:#548c34"><tspan dy="0">Al</tspan><tspan font-size="11" dy="4">2</tspan><tspan dy="-4">O</tspan><tspan font-size="11" dy="4">3</tspan><tspan dy="-4">/30SiC/0.2MgO</tspan></text>
<text transform="translate(319.3,663.7) rotate(34.5)" font-size="16" style="fill:#111"><tspan dy="0">Predicted </tspan><tspan font-style="italic" dy="0">t</tspan><tspan font-size="11" dy="4">H</tspan><tspan font-size="11" dy="-9.5">min</tspan></text>
<text transform="translate(307.3,677.7) rotate(34.5)" font-size="16" style="fill:#111"><tspan dy="0">for </tspan><tspan dy="0">Al</tspan><tspan font-size="11" dy="4">2</tspan><tspan dy="-4">O</tspan><tspan font-size="11" dy="4">3</tspan><tspan dy="-4">/30SiC</tspan></text>
</g>
</svg>
</body></html>
